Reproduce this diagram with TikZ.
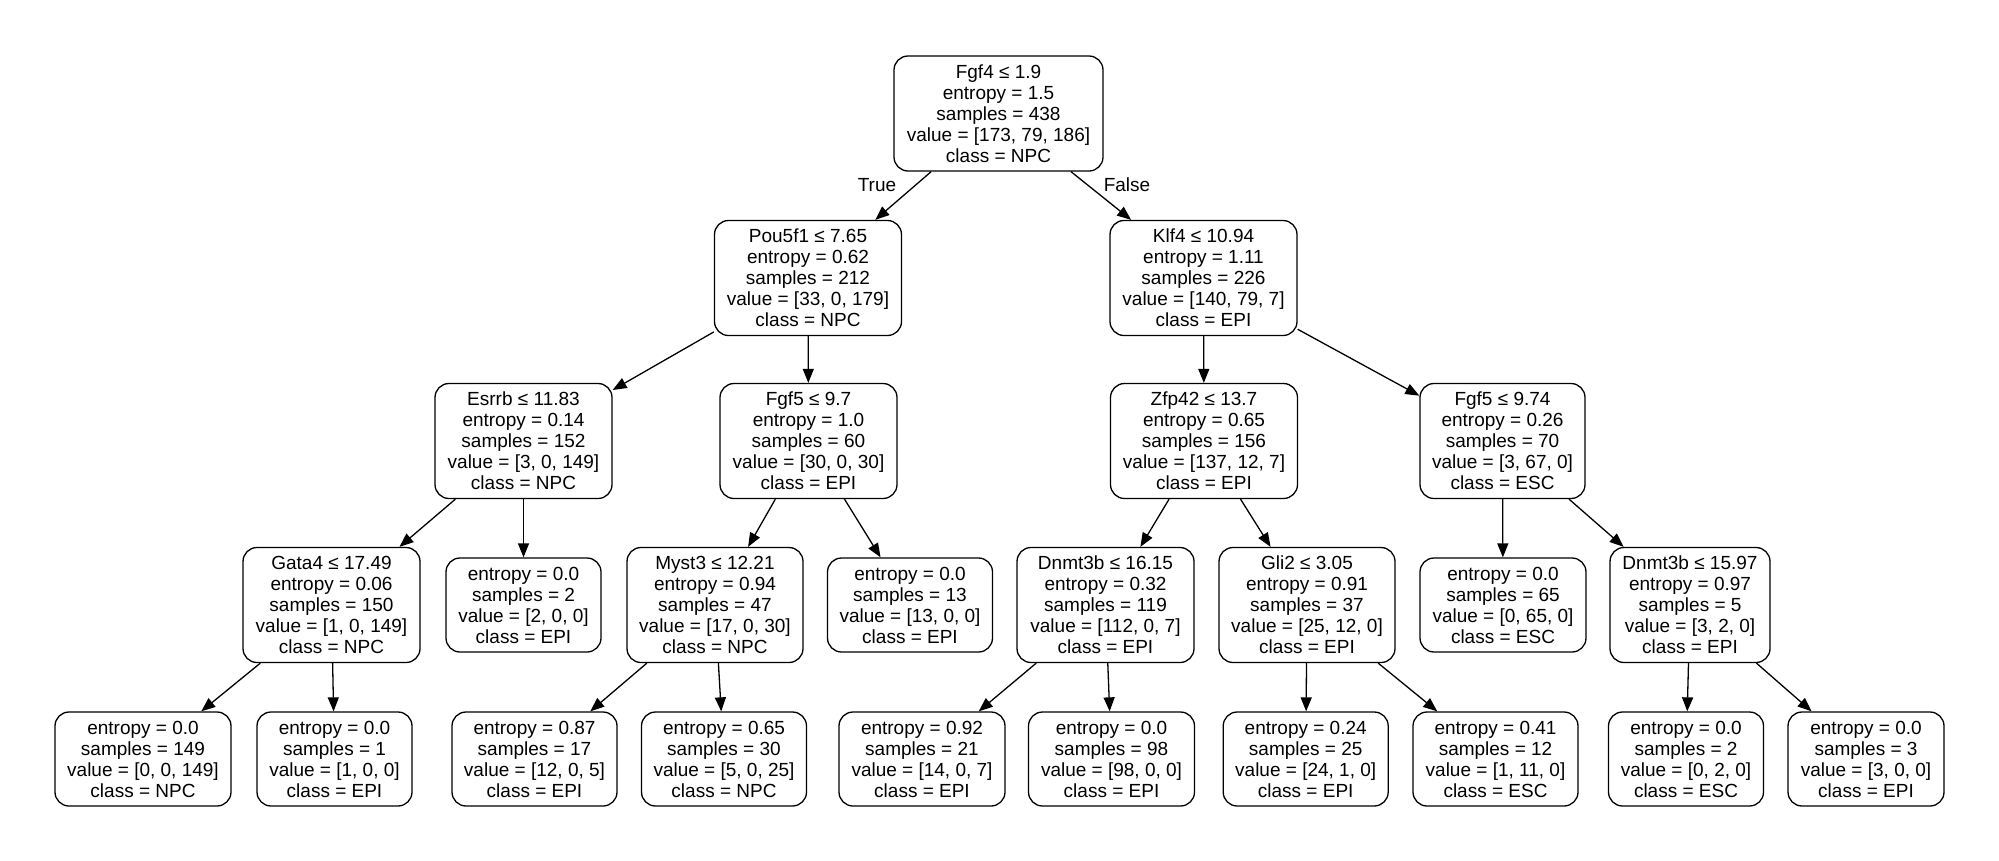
\documentclass[tikz,border=0pt]{standalone}
\usepackage{fontspec}
\setmainfont{Liberation Sans}
\usetikzlibrary{arrows.meta}
\tikzset{
  tn/.style={draw, rounded corners=14pt, line width=1.3pt, fill=white, align=center,
    inner xsep=0pt, inner ysep=0pt, font=\fontsize{19pt}{21pt}\selectfont},
  inner/.style={tn, minimum height=115pt, minimum width=#1},
  leaf/.style={tn, minimum height=94pt, minimum width=#1},
  conn/.style={-{Triangle[length=14pt,width=11pt]}, line width=1.3pt},
  lbl/.style={inner sep=0pt, font=\fontsize{19pt}{21pt}\selectfont}
}
\begin{document}
\begin{tikzpicture}[x=1pt,y=-1pt]
\path[use as bounding box, fill=white] (0,0) rectangle (1999,860);
% level 0
\node[inner=209pt] (root) at (998.5,113.5) {Fgf4 ≤ 1.9\\entropy = 1.5\\samples = 438\\value = [173, 79, 186]\\class = NPC};
% level 1
\node[inner=187pt] (pou) at (808,278) {Pou5f1 ≤ 7.65\\entropy = 0.62\\samples = 212\\value = [33, 0, 179]\\class = NPC};
\node[inner=187pt] (klf) at (1203.5,278) {Klf4 ≤ 10.94\\entropy = 1.11\\samples = 226\\value = [140, 79, 7]\\class = EPI};
% level 2
\node[inner=177pt] (esrrb) at (523.5,441) {Esrrb ≤ 11.83\\entropy = 0.14\\samples = 152\\value = [3, 0, 149]\\class = NPC};
\node[inner=177pt] (fgfa) at (808.5,441) {Fgf5 ≤ 9.7\\entropy = 1.0\\samples = 60\\value = [30, 0, 30]\\class = EPI};
\node[inner=187pt] (zfp) at (1204,441) {Zfp42 ≤ 13.7\\entropy = 0.65\\samples = 156\\value = [137, 12, 7]\\class = EPI};
\node[inner=165pt] (fgfb) at (1502.5,441) {Fgf5 ≤ 9.74\\entropy = 0.26\\samples = 70\\value = [3, 67, 0]\\class = ESC};
% level 3
\node[inner=177pt] (gata) at (331.5,605) {Gata4 ≤ 17.49\\entropy = 0.06\\samples = 150\\value = [1, 0, 149]\\class = NPC};
\node[leaf=155pt] (lb) at (523.5,605) {entropy = 0.0\\samples = 2\\value = [2, 0, 0]\\class = EPI};
\node[inner=176pt] (myst) at (715,605) {Myst3 ≤ 12.21\\entropy = 0.94\\samples = 47\\value = [17, 0, 30]\\class = NPC};
\node[leaf=165pt] (lm) at (910,605) {entropy = 0.0\\samples = 13\\value = [13, 0, 0]\\class = EPI};
\node[inner=177pt] (dna) at (1105.5,605) {Dnmt3b ≤ 16.15\\entropy = 0.32\\samples = 119\\value = [112, 0, 7]\\class = EPI};
\node[inner=176pt] (gli) at (1307,605) {Gli2 ≤ 3.05\\entropy = 0.91\\samples = 37\\value = [25, 12, 0]\\class = EPI};
\node[leaf=166pt] (lf) at (1503,605) {entropy = 0.0\\samples = 65\\value = [0, 65, 0]\\class = ESC};
\node[inner=160pt] (dnb) at (1690,605) {Dnmt3b ≤ 15.97\\entropy = 0.97\\samples = 5\\value = [3, 2, 0]\\class = EPI};
% level 4
\node[leaf=176pt] (a) at (143,759) {entropy = 0.0\\samples = 149\\value = [0, 0, 149]\\class = NPC};
\node[leaf=155pt] (b) at (334.5,759) {entropy = 0.0\\samples = 1\\value = [1, 0, 0]\\class = EPI};
\node[leaf=165pt] (c) at (534.5,759) {entropy = 0.87\\samples = 17\\value = [12, 0, 5]\\class = EPI};
\node[leaf=165pt] (d) at (724,759) {entropy = 0.65\\samples = 30\\value = [5, 0, 25]\\class = NPC};
\node[leaf=166pt] (e) at (922,759) {entropy = 0.92\\samples = 21\\value = [14, 0, 7]\\class = EPI};
\node[leaf=166pt] (f) at (1111.5,759) {entropy = 0.0\\samples = 98\\value = [98, 0, 0]\\class = EPI};
\node[leaf=165pt] (g) at (1305.7,759) {entropy = 0.24\\samples = 25\\value = [24, 1, 0]\\class = EPI};
\node[leaf=165pt] (h) at (1495.5,759) {entropy = 0.41\\samples = 12\\value = [1, 11, 0]\\class = ESC};
\node[leaf=155pt] (i) at (1686,759) {entropy = 0.0\\samples = 2\\value = [0, 2, 0]\\class = ESC};
\node[leaf=156pt] (j) at (1866,759) {entropy = 0.0\\samples = 3\\value = [3, 0, 0]\\class = EPI};
% labels
\node[lbl] (ltrue) at (877,185) {True};
\node[lbl] (lfalse) at (1127,185) {False};
% connectors
\foreach \s/\t in {root/pou, root/klf, pou/esrrb, pou/fgfa, klf/zfp, klf/fgfb,
  esrrb/gata, esrrb/lb, fgfa/myst, fgfa/lm, zfp/dna, zfp/gli, fgfb/lf, fgfb/dnb,
  gata/a, gata/b, myst/c, myst/d, dna/e, dna/f, gli/g, gli/h, dnb/i, dnb/j}
  \draw[conn] (\s) -- (\t);
\end{tikzpicture}
\end{document}
